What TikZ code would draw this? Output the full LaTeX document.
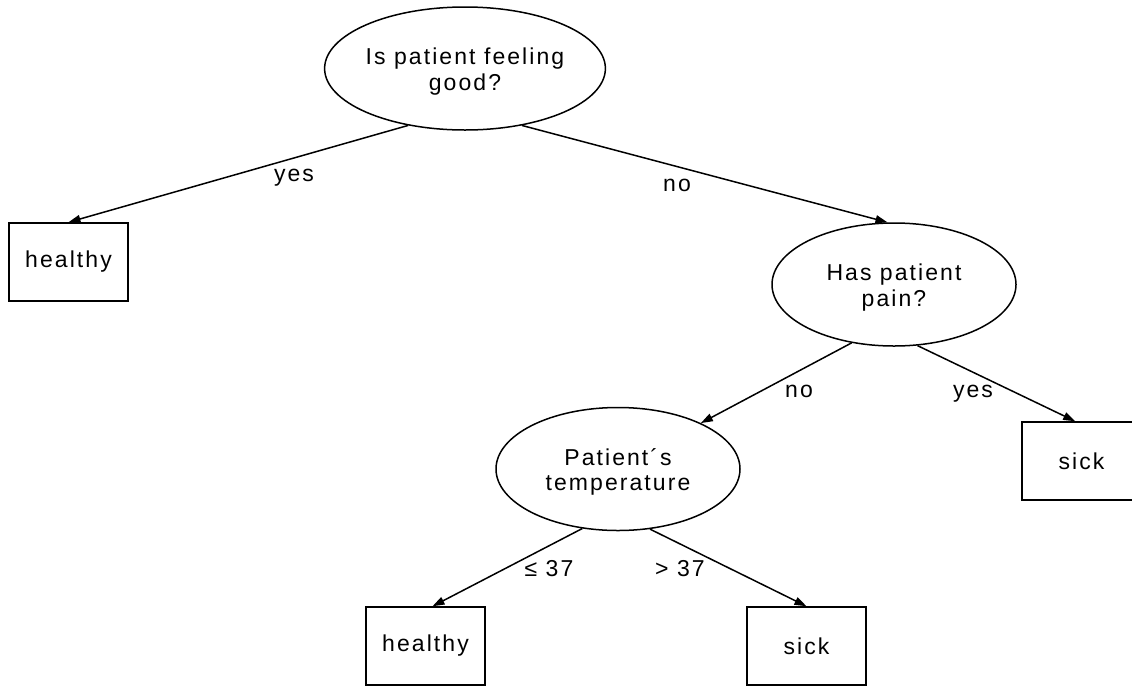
\documentclass[tikz,border=0pt]{standalone}
\usepackage{fontspec}
\setmainfont{Liberation Sans}[LetterSpace=9]
\usetikzlibrary{arrows.meta,shapes.geometric}
\newcommand{\firstline}{\rule{0pt}{23pt}}
\begin{document}
\begin{tikzpicture}[x=1pt,y=-1pt,
  every node/.style={font=\fontsize{23}{25.7}\selectfont, inner sep=0pt},
  question/.style={ellipse, draw, line width=1.5pt, minimum width=244pt, minimum height=123pt, align=center},
  leaf/.style={rectangle, draw, line width=1.5pt, minimum width=119pt, minimum height=78pt},
  conn/.style={line width=1.5pt, -{Triangle[length=12pt,width=8pt]}},
  lbl/.style={anchor=base}]
\clip (0,0) rectangle (1132,686);
\fill[white] (0,0) rectangle (1132,686);

\node[question] (e1) at (465,68.5) {\firstline Is patient feeling\\good?};
\node[question] (e2) at (894,284.5) {\firstline Has patient\\pain?};
\node[question] (e3) at (618,469) {\firstline Patient´s\\temperature};

\node[leaf] (h1) at (68.5,262) {healthy};
\node[leaf] (s1) at (1081.5,461) {sick};
\node[leaf] (h2) at (425.5,646) {healthy};
\node[leaf] (s2) at (806.5,646) {sick};

\draw[conn] (e1.225) -- (h1.north);
\draw[conn] (e1.315) -- (e2.96);
\draw[conn] (e2.234) -- (e3.29);
\draw[conn] (e2.291) -- (s1.99);
\draw[conn] (e3.239) -- (h2.80);
\draw[conn] (e3.298) -- (s2.north);

\node[lbl] (l1) at (294,181) {yes};
\node[lbl] (l2) at (677,191.5) {no};
\node[lbl] (l3) at (799,397) {no};
\node[lbl] (l4) at (973,397) {yes};
\node[lbl] (l5) at (549,576) {≤ 37};
\node[lbl] (l6) at (680,576) {> 37};
\end{tikzpicture}
\end{document}
